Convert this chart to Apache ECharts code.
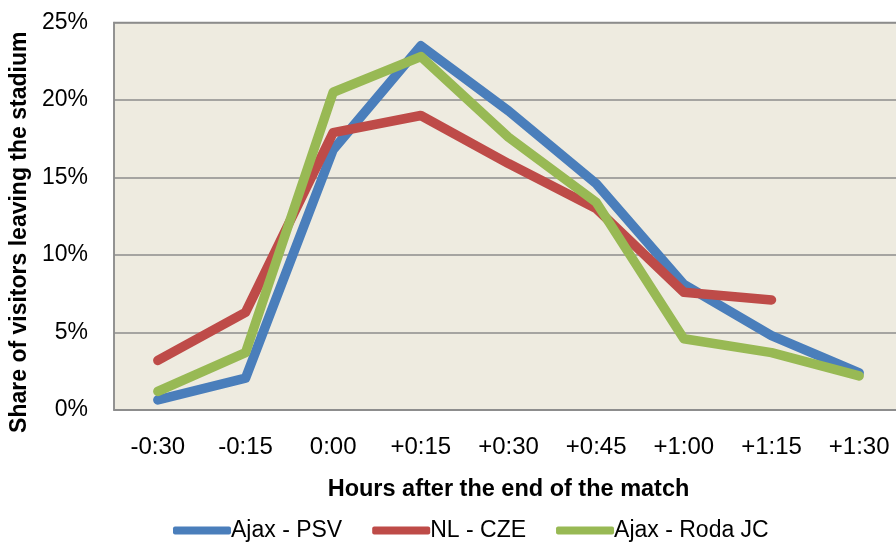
<!DOCTYPE html>
<html><head><meta charset="utf-8">
<script src="https://cdn.jsdelivr.net/npm/echarts@6/dist/echarts.min.js"></script>
<style>html,body{margin:0;padding:0;background:#fff}#c{width:896px;height:542px}</style>
</head><body><div id="c"></div>
<script>
const categories = ['-0:30','-0:15','0:00','+0:15','+0:30','+0:45','+1:00','+1:15','+1:30'];
const ajaxPsv = [0.65, 2.05, 16.8, 23.5, 19.3, 14.6, 8.1, 4.8, 2.4];
const nlCze = [3.2, 6.3, 17.9, 19.0, 15.9, 13.0, 7.6, 7.1, null];
const ajaxRoda = [1.2, 3.7, 20.5, 22.8, 17.6, 13.4, 4.6, 3.7, 2.2];
const yTicks = [0, 5, 10, 15, 20, 25];
const seriesNames = ['Ajax - PSV', 'NL - CZE', 'Ajax - Roda JC'];
const colors = ['#4a7ebb', '#be4b48', '#98b954'];
const FONT = '"Liberation Sans", Arial, sans-serif';

const chart = echarts.init(document.getElementById('c'), null, {renderer: 'canvas'});
const mk = (name, data, color) => ({
  name, type: 'line', data, showSymbol: false, symbol: 'none', connectNulls: false,
  lineStyle: {color, width: 9.5, cap: 'round', join: 'round'},
  itemStyle: {color}, z: 3
});
chart.setOption({
  animation: false,
  color: colors,
  grid: {left: 114, top: 22.5, width: 789, height: 387.5, show: true, backgroundColor: '#eeebe0', borderColor: '#8c8c8c', borderWidth: 1.5, containLabel: false, outerBoundsMode: 'none'},
  legend: {
    top: 514, left: 168, itemWidth: 58, itemHeight: 8, itemGap: 30, icon: 'roundRect',
    textStyle: {fontFamily: FONT, fontSize: 23, color: '#000', padding: [0,0,0,-5]},
    data: seriesNames
  },
  xAxis: {
    type: 'category', data: categories, boundaryGap: true,
    axisLine: {show: true, lineStyle: {color: '#8c8c8c', width: 1.5}},
    axisTick: {show: false},
    axisLabel: {fontFamily: FONT, fontSize: 24, color: '#000', margin: 25},
    name: 'Hours after the end of the match', nameLocation: 'middle', nameGap: 68,
    nameTextStyle: {fontFamily: FONT, fontSize: 23.5, fontWeight: 'bold', color: '#000'}
  },
  yAxis: {
    type: 'value', min: 0, max: 25, interval: 5,
    axisLine: {show: true, lineStyle: {color: '#8c8c8c', width: 1.5}},
    axisTick: {show: false},
    splitLine: {show: true, lineStyle: {color: '#8c8c8c', width: 1.5}},
    axisLabel: {fontFamily: FONT, fontSize: 23, color: '#000', margin: 26, formatter: v => yTicks.includes(v) ? v + '%' : ''},
    name: 'Share of visitors leaving the stadium', nameLocation: 'middle', nameGap: 79, nameRotate: 90,
    nameTextStyle: {fontFamily: FONT, fontSize: 23, fontWeight: 'bold', color: '#000', padding: [0, 32, 0, 0]}
  },
  series: [mk(seriesNames[0], ajaxPsv, colors[0]), mk(seriesNames[1], nlCze, colors[1]), mk(seriesNames[2], ajaxRoda, colors[2])]
});
</script></body></html>
